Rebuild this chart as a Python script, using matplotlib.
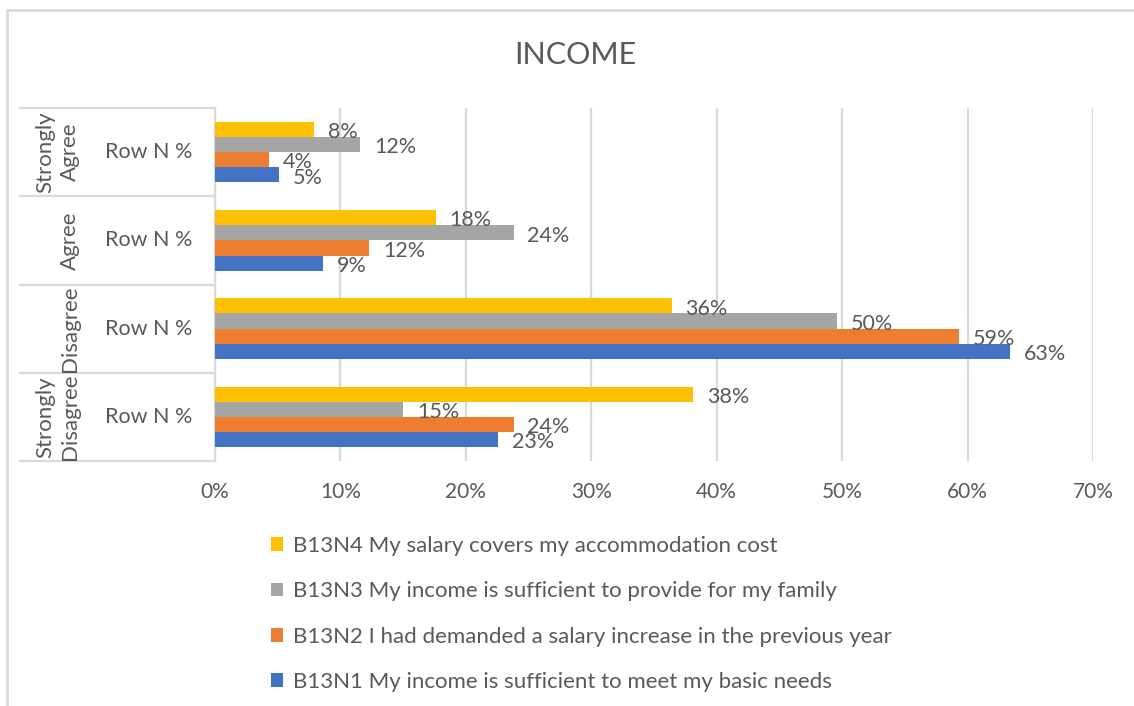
import numpy as np
import matplotlib
matplotlib.use('Agg')
import matplotlib.pyplot as plt
from matplotlib.lines import Line2D
from matplotlib.patches import Patch
import matplotlib.transforms as mtrans

plt.rcParams['font.family'] = ['Lato', 'DejaVu Sans']

# bottom to top, as drawn
outer_labels = ['Strongly\nDisagree', 'Disagree', 'Agree', 'Strongly\nAgree']
inner_label = 'Row N %'

series_names = [
    'B13N1 My income is sufficient to meet my basic needs',
    'B13N2 I had demanded a salary increase in the previous year',
    'B13N3 My income is sufficient to provide for my family',
    'B13N4 My salary covers my accommodation cost',
]
n1 = [0.226, 0.634, 0.086, 0.051]
n2 = [0.238, 0.593, 0.123, 0.043]
n3 = [0.150, 0.496, 0.238, 0.116]
n4 = [0.381, 0.364, 0.176, 0.079]
ticks = [0, 0.1, 0.2, 0.3, 0.4, 0.5, 0.6, 0.7]

colors = ['#4472C4', '#ED7D31', '#A5A5A5', '#FFC000']
txt = '#595959'
grid = '#D9D9D9'

W, H = 1134, 706
fig = plt.figure(figsize=(W / 100, H / 100), dpi=100)
# plot area in pixels: x 215..1093, y 108..461
ax = fig.add_axes([215 / W, 1 - 461 / H, (1093 - 215) / W, (461 - 108) / H])

y = np.arange(len(outer_labels))
h = 0.172
for i, vals in enumerate([n1, n2, n3, n4]):
    pos = y + (i - 1.5) * h
    ax.barh(pos, vals, height=h, color=colors[i], label=series_names[i], zorder=3)
    for p, v in zip(pos, vals):
        ax.annotate(f'{round(v * 100)}%', (v, p), xytext=(10, -2), textcoords='offset points',
                    ha='left', va='center', fontsize=15.5, color=txt, zorder=4)

ax.set_xlim(0, 0.7)
ax.set_ylim(-0.5, len(outer_labels) - 0.5)
ax.set_xticks(ticks)
ax.set_xticklabels([f'{int(round(t * 100))}%' for t in ticks])
ax.set_yticks([])
ax.tick_params(axis='x', length=0, pad=15, labelsize=15, labelcolor=txt)
ax.xaxis.grid(True, color=grid, lw=1.6)
ax.set_axisbelow(True)
for s in ['top', 'right', 'bottom']:
    ax.spines[s].set_visible(False)
ax.spines['left'].set_color(grid)
ax.spines['left'].set_linewidth(1.6)

# multi-level category axis
tr = mtrans.blended_transform_factory(ax.transAxes, ax.transData)
x_left = (20 - 215) / (1093 - 215)
for b in np.arange(-0.5, len(outer_labels), 1.0):
    ax.plot([x_left, 0], [b, b], transform=tr, color=grid, lw=1.6, clip_on=False)
for yy, lab in zip(y, outer_labels):
    ax.text((149 - 215) / (1093 - 215), yy, inner_label, transform=tr, ha='center', va='center',
            fontsize=15.5, color=txt)
    ax.text((80 - 215) / (1093 - 215), yy, lab, transform=tr, rotation=90, ha='right', va='center',
            multialignment='center', fontsize=16, color=txt, linespacing=1.3)

fig.text(575 / W, 1 - 55 / H, 'INCOME', ha='center', va='center', fontsize=22, color=txt)

# chart border (left and top only visible)
fig.add_artist(Line2D([7 / W, 7 / W, 1.0], [0.0, 1 - 10 / H, 1 - 10 / H], color=grid, lw=2))

handles = [Patch(facecolor=colors[i]) for i in [3, 2, 1, 0]]
labels = [series_names[i] for i in [3, 2, 1, 0]]
fig.legend(handles, labels, loc='upper left', bbox_to_anchor=(271 / W, 1 - 536 / H), frameon=False,
           fontsize=16, labelcolor=txt, handlelength=0.55, handleheight=0.55, handletextpad=0.45,
           labelspacing=1.14, borderaxespad=0, borderpad=0)

fig.savefig('out.png', dpi=100, facecolor='white')
